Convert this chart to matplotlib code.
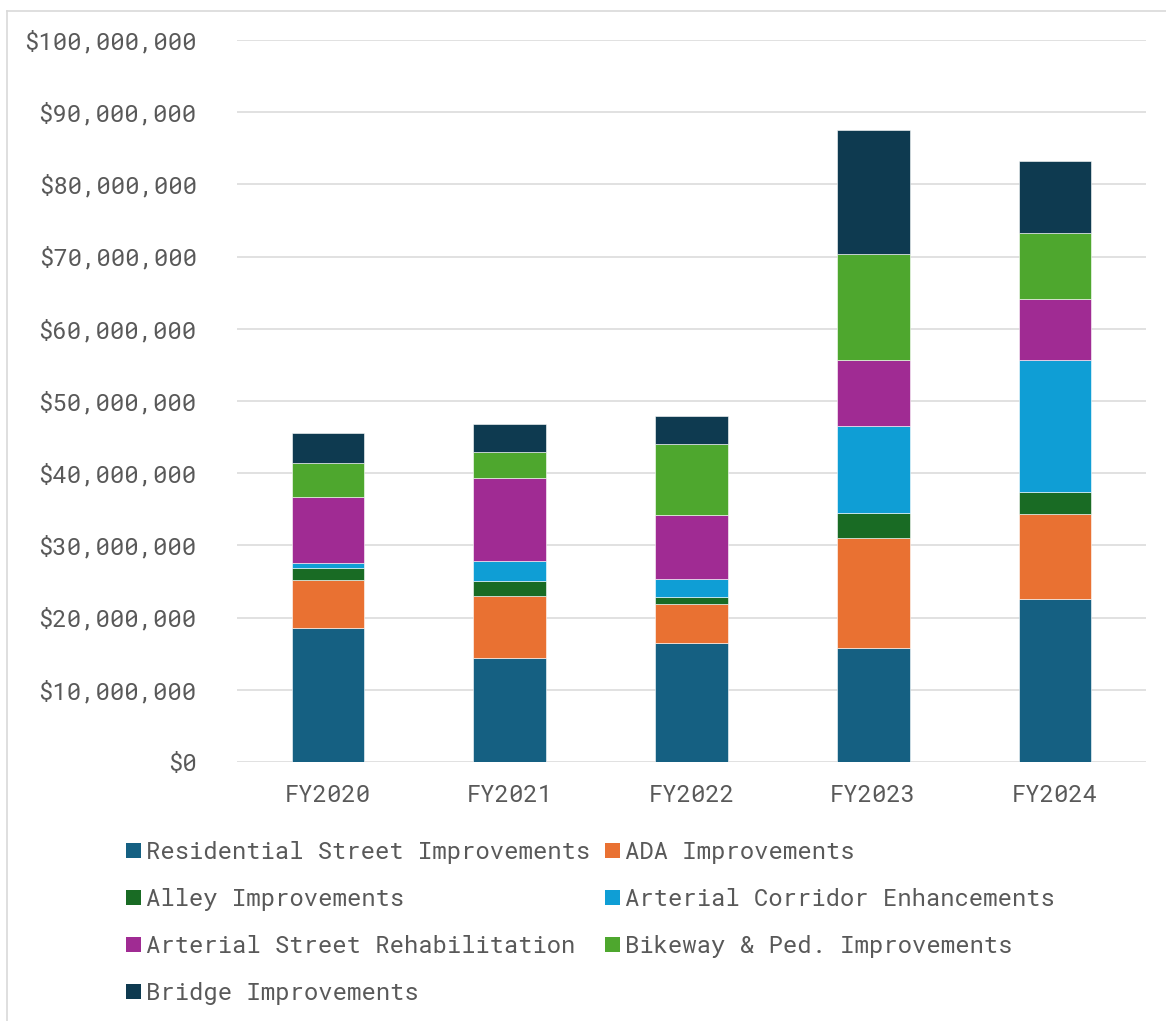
import matplotlib
matplotlib.use("Agg")
import matplotlib.pyplot as plt
from matplotlib import font_manager
from matplotlib.lines import Line2D
from matplotlib.patches import Patch
from matplotlib.ticker import FuncFormatter, MultipleLocator

# fiscal years and spending per program (USD millions)
years = ["FY2020", "FY2021", "FY2022", "FY2023", "FY2024"]
programs = [
    "Residential Street Improvements",
    "ADA Improvements",
    "Alley Improvements",
    "Arterial Corridor Enhancements",
    "Arterial Street Rehabilitation",
    "Bikeway & Ped. Improvements",
    "Bridge Improvements",
]
residential = [18.56, 14.40, 16.54, 15.80, 22.64]
ada = [6.70, 8.55, 5.34, 15.29, 11.67]
alley = [1.57, 2.12, 0.97, 3.45, 3.10]
arterial_corridor = [0.73, 2.82, 2.50, 12.01, 18.22]
arterial_street = [9.14, 11.50, 8.86, 9.14, 8.43]
bikeway = [4.77, 3.51, 9.79, 14.65, 9.19]
bridge = [4.10, 3.90, 3.98, 17.13, 10.00]

series = [residential, ada, alley, arterial_corridor, arterial_street, bikeway, bridge]
colors = ["#156082", "#E97132", "#196B24", "#0F9ED5", "#A02B93", "#4EA72E", "#0E3A50"]

installed = {f.name for f in font_manager.fontManager.ttflist}
mono = "Roboto Mono" if "Roboto Mono" in installed else "DejaVu Sans Mono"
plt.rcParams["font.family"] = [mono, "DejaVu Sans"]
fs = 17.2
plt.rcParams["font.size"] = fs
text_color = "#595959"
grid_color = "#D9D9D9"

W, H = 1166, 1021
fig = plt.figure(figsize=(W / 100, H / 100), dpi=100)
ax = fig.add_axes([237 / W, 1 - 762 / H, 909 / W, 722 / H])

x = range(len(years))
bottom = [0.0] * len(years)
for name, vals, col in zip(programs, series, colors):
    dollars = [v * 1e6 for v in vals]
    ax.bar(x, dollars, width=0.4, bottom=bottom, color=col, label=name,
           edgecolor="white", linewidth=0.4, zorder=3)
    bottom = [b + d for b, d in zip(bottom, dollars)]

ax.set_xlim(-0.5, len(years) - 0.5)
ax.set_ylim(0, 100e6)
ax.yaxis.set_major_locator(MultipleLocator(10e6))
ax.yaxis.set_major_formatter(FuncFormatter(lambda v, _: f"${v:,.0f}"))
ax.set_xticks(list(x))
ax.set_xticklabels(years)
ax.grid(axis="y", color=grid_color, linewidth=1.1, zorder=0)
ax.tick_params(axis="both", length=0, colors=text_color, labelsize=fs)
ax.tick_params(axis="y", pad=29)
ax.tick_params(axis="x", pad=16)
for s in ax.spines.values():
    s.set_visible(False)

# legend filled row by row: reorder handles for matplotlib's column-major layout
order = [0, 2, 4, 6, 1, 3, 5]
handles = [Patch(facecolor=colors[i], label=programs[i]) for i in order]
fig.legend(handles=handles, loc="upper left", bbox_to_anchor=(126 / W, 1 - 841 / H),
           ncol=2, frameon=False, borderpad=0, borderaxespad=0,
           handlelength=0.62, handleheight=0.62, handletextpad=0.22,
           columnspacing=0.62, labelspacing=1.0, labelcolor=text_color, fontsize=fs)

# chart area border (top and left edges)
fig.add_artist(Line2D([7 / W, 1], [1 - 11 / H] * 2, color=grid_color, linewidth=1.2))
fig.add_artist(Line2D([7 / W] * 2, [0, 1 - 11 / H], color=grid_color, linewidth=1.2))

fig.savefig("out.png", dpi=100, facecolor="white")
